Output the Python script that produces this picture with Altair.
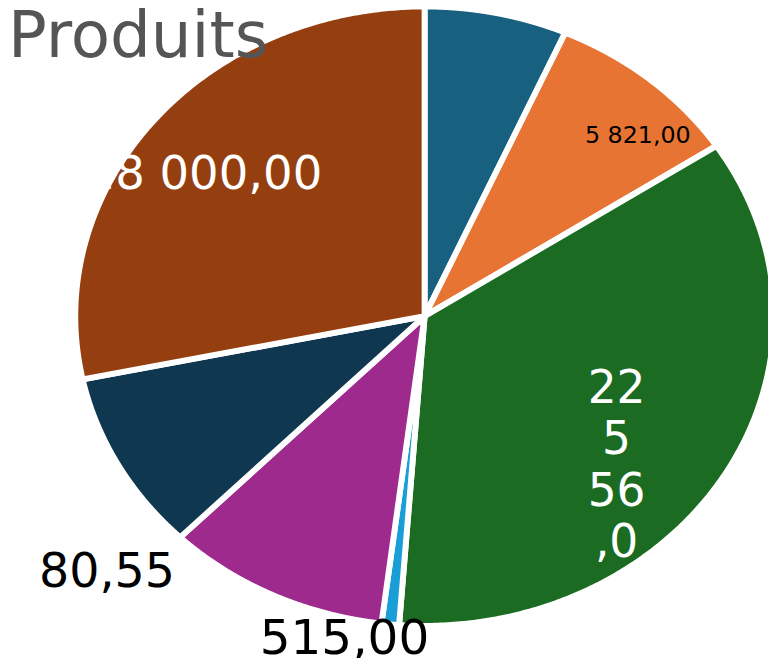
import altair as alt
import pandas as pd

# ---- data ----
categories = ["Catégorie 1", "Catégorie 2", "Catégorie 3", "Catégorie 4",
              "Catégorie 5", "Catégorie 6", "Catégorie 7"]
values = [4200.00, 5821.00, 22556.00, 515.00, 6600.00, 5980.55, 18000.00]
labels = ["", "5 821,00", "22\n5\n56\n,0", "515,00", "", "80,55", "18 000,00"]

# ---- styles ----
colors = ["#17607F", "#E87433", "#1B6B23", "#1A9ED8", "#9E2A8E", "#0F3850", "#953F11"]
label_frac = [0.5, 0.688, 0.4434, 2.830, 0.5, 0.0939, 0.4674]   # position along slice
label_r = [0.7, 0.843, 0.598, 1.0665, 0.7, 1.2316, 0.779]        # radial position
label_color = ["white", "black", "white", "black", "white", "black", "white"]
label_size = [46, 24, 46, 49, 46, 48, 47]

df = pd.DataFrame({
    "idx": list(range(len(categories))),
    "cat": categories,
    "value": values,
    "label": labels,
    "lfrac": label_frac,
    "lr": label_r,
    "lcolor": label_color,
    "lsize": label_size,
})

W, H = 738, 650
x_scale = alt.Scale(domain=[-1.1076, 0.9830], nice=False, zero=False)
y_scale = alt.Scale(domain=[-1.09265, 0.98403], nice=False, zero=False)

base = (
    alt.Chart(df)
    .transform_window(cum="sum(value)", sort=[alt.SortField("idx")], frame=[None, 0])
    .transform_joinaggregate(total="sum(value)")
    .transform_calculate(
        a0="2 * PI * (datum.cum - datum.value) / datum.total",
        a1="2 * PI * datum.cum / datum.total",
    )
)

N = 240
slices = (
    base.transform_calculate(k=f"sequence(0, {N + 2})")
    .transform_flatten(["k"])
    .transform_calculate(
        edge=f"datum.k >= 1 && datum.k <= {N}",
        ang=f"datum.a0 + clamp((datum.k - 1) / {N - 1}, 0, 1) * (datum.a1 - datum.a0)",
    )
    .transform_calculate(
        u="datum.edge ? sin(datum.ang) : 0",
        v="datum.edge ? cos(datum.ang) : 0",
    )
    .mark_line(filled=True, stroke="white", strokeWidth=6, strokeJoin="round")
    .encode(
        x=alt.X("u:Q", scale=x_scale, axis=None),
        y=alt.Y("v:Q", scale=y_scale, axis=None),
        order=alt.Order("k:Q"),
        color=alt.Color("cat:N", scale=alt.Scale(domain=categories, range=colors), legend=None),
    )
)

texts = (
    base.transform_filter("datum.label != ''")
    .transform_calculate(la="datum.a0 + datum.lfrac * (datum.a1 - datum.a0)")
    .transform_calculate(lu="datum.lr * sin(datum.la)", lv="datum.lr * cos(datum.la)")
    .mark_text(font="DejaVu Sans", lineBreak="\n", lineHeight=52, align="center", baseline="middle")
    .encode(
        x=alt.X("lu:Q", scale=x_scale, axis=None),
        y=alt.Y("lv:Q", scale=y_scale, axis=None),
        text="label:N",
        color=alt.Color("lcolor:N", scale=None),
        size=alt.Size("lsize:Q", scale=None),
    )
)

chart = (
    alt.layer(slices, texts)
    .resolve_scale(color="independent")
    .properties(
        width=W,
        height=H,
        padding={"left": 30, "top": 0, "right": 0, "bottom": 0},
        autosize=alt.AutoSizeParams(type="none"),
        background="white",
        title=alt.TitleParams(
            "Produits", anchor="start", frame="group", fontSize=65, font="DejaVu Sans",
            fontWeight="normal", color="#555555", dx=-30, dy=68, offset=0,
        ),
    )
    .configure_view(stroke=None)
)

chart.save("out.html", embed_options={"renderer": "svg", "actions": False})
